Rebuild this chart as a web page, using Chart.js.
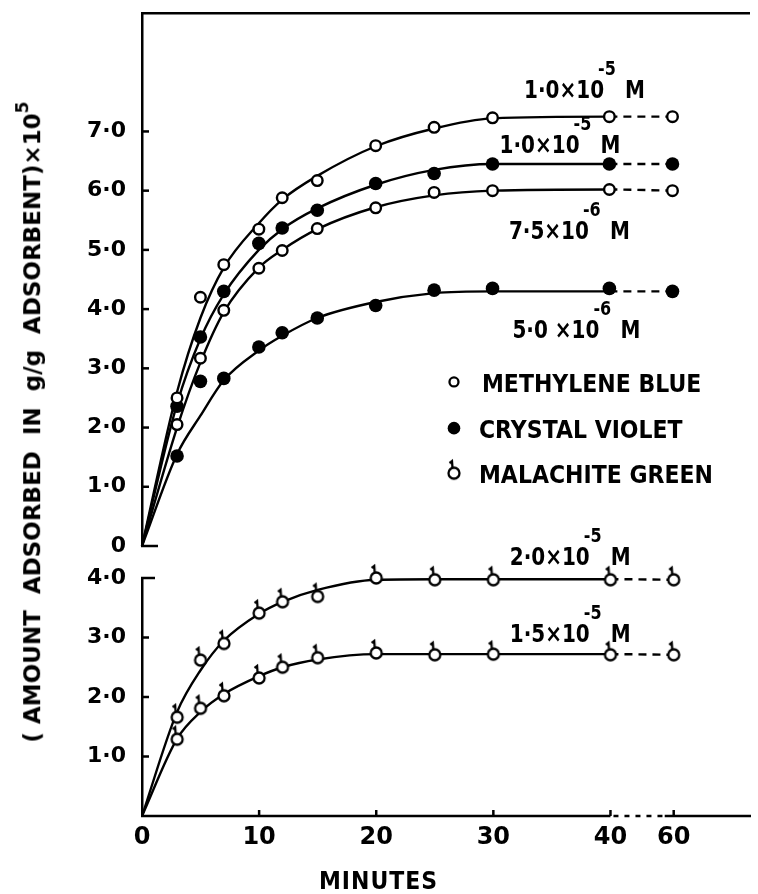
<!DOCTYPE html>
<html>
<head>
<meta charset="utf-8">
<script src="https://cdn.jsdelivr.net/npm/chart.js@4.4.0/dist/chart.umd.min.js"></script>
<style>
  html, body { margin: 0; padding: 0; background: #fff; }
  #wrap { position: relative; width: 758px; height: 894px; overflow: hidden; background: #fff; }
  #top { position: absolute; left: 0; top: 0; }
  #bottom { position: absolute; left: 0; top: 500px; }
  #ytitle {
    position: absolute; left: 30px; top: 422px;
    transform: translate(-50%, -50%) rotate(-90deg);
    white-space: nowrap; font: bold 23px 'DejaVu Sans'; color: #000;
  }
  #ytitle sup { font-size: 17px; position: relative; top: -3px; }
</style>
</head>
<body>
<div id="wrap">
  <canvas id="top" width="758" height="560"></canvas>
  <canvas id="bottom" width="758" height="394"></canvas>
  <div id="ytitle">( AMOUNT&nbsp; ADSORBED&nbsp; IN&nbsp; g/g&nbsp; ADSORBENT)×10<sup>5</sup></div>
</div>
<script>
// sampling times (minutes) of the measured points
const minutes = [3, 5, 7, 10, 12, 15, 20, 25, 30, 40, 60];

// measured points, upper panel
const mbHigh = [2.5, 4.2, 4.75, 5.35, 5.88, 6.17, 6.76, 7.07, 7.23, 7.25, 7.25];  // methylene blue 1.0e-5 M
const cvHigh = [2.36, 3.53, 4.3, 5.11, 5.37, 5.67, 6.12, 6.29, 6.45, 6.45, 6.45]; // crystal violet 1.0e-5 M
const mbLow = [2.05, 3.17, 3.98, 4.69, 4.99, 5.36, 5.71, 5.97, 6.0, 6.02, 6.0];   // methylene blue 7.5e-6 M
const cvLow = [1.52, 2.78, 2.83, 3.36, 3.6, 3.85, 4.06, 4.32, 4.35, 4.35, 4.3];   // crystal violet 5.0e-6 M

// measured points, lower panel (malachite green)
const mgHigh = [1.66, 2.62, 2.9, 3.41, 3.6, 3.69, 4.0, 3.97, 3.97, 3.97, 3.97];   // 2.0e-5 M
const mgLow = [1.29, 1.81, 2.02, 2.32, 2.5, 2.66, 2.74, 2.71, 2.72, 2.71, 2.71];  // 1.5e-5 M

// smooth curves as drawn in the figure
const curveMinutes = [0, 3, 5, 7, 10, 12, 15, 20, 25, 30, 40, 60];
const mbHighCurve = [0, 2.6, 3.85, 4.7, 5.45, 5.85, 6.25, 6.75, 7.05, 7.22, 7.25, 7.25];
const cvHighCurve = [0, 2.4, 3.5, 4.25, 5.0, 5.35, 5.7, 6.1, 6.35, 6.45, 6.45, 6.45];
const mbLowCurve = [0, 2.0, 3.1, 3.95, 4.7, 5.0, 5.35, 5.72, 5.92, 6.0, 6.02, 6.0];
const cvLowCurve = [0, 1.55, 2.2, 2.8, 3.3, 3.55, 3.85, 4.12, 4.27, 4.3, 4.3, 4.3];
const mgHighCurve = [0, 1.75, 2.45, 2.95, 3.4, 3.6, 3.8, 3.97, 3.98, 3.98, 3.98, 3.97];
const mgLowCurve = [0, 1.3, 1.75, 2.05, 2.35, 2.5, 2.63, 2.72, 2.72, 2.72, 2.72, 2.71];

// axis ticks
const xTicks = [0, 10, 20, 30, 40, 60];
const upperTicks = [0, 1, 2, 3, 4, 5, 6, 7];
const lowerTicks = [1, 2, 3, 4];

// legend / concentration labels
const legendNames = ['METHYLENE BLUE', 'CRYSTAL VIOLET', 'MALACHITE GREEN'];
const upperNotes = [
    { base: '1·0×10', exp: '-5' },
    { base: '1·0×10', exp: '-5' },
    { base: '7·5×10', exp: '-6' },
    { base: '5·0 ×10', exp: '-6' }
];
const lowerNotes = [
    { base: '2·0×10', exp: '-5' },
    { base: '1·5×10', exp: '-5' }
];
// where the labels sit (minutes, value)
const upperNotePos = [[32.7, 7.57], [30.6, 6.63], [31.4, 5.19], [31.7, 3.51]];
const lowerNotePos = [[31.4, 4.22], [31.4, 2.92]];
const legendPos = { minute: 26.7, rows: [2.77, 1.99, 1.23] };
const xTitle = 'MINUTES';

// broken time axis: 40 -> 60 squeezed
const breakFrom = 40, breakTo = 60, breakPos = 45.4;
const xPos = m => (m <= breakFrom ? m : breakFrom + (m - breakFrom) * (breakPos - breakFrom) / (breakTo - breakFrom));
const pts = (xs, ys) => xs.map((m, i) => ({ x: xPos(m), y: ys[i] }));

const FONT = 'DejaVu Sans';
const fmt = v => (v === 0 ? '0' : v.toFixed(1).replace('.', '·'));

function mgMarker() {
    const c = document.createElement('canvas');
    c.width = 18; c.height = 32;
    const g = c.getContext('2d');
    g.lineWidth = 2.3; g.strokeStyle = '#000'; g.fillStyle = '#fff';
    g.beginPath(); g.arc(9, 16, 5.5, 0, Math.PI * 2); g.fill(); g.stroke();
    g.beginPath(); g.moveTo(7.5, 10.5); g.lineTo(7, 4); g.lineTo(4.5, 6); g.stroke();
    return c;
}
const mgImg = mgMarker();

const openDot = { pointStyle: 'circle', pointRadius: 5.3, pointBackgroundColor: '#fff', pointBorderWidth: 2.4 };
const fullDot = { pointStyle: 'circle', pointRadius: 6.8, pointBackgroundColor: '#000', pointBorderWidth: 0 };
const mgDot = { pointStyle: mgImg, pointRadius: 6 };

function pointSet(values, style) {
    return Object.assign({
        data: pts(minutes, values), showLine: false, clip: false, order: 0,
        pointBorderColor: '#000', pointHoverRadius: 6
    }, style);
}
function curveSet(values) {
    return {
        data: pts(curveMinutes, values), borderColor: '#000', borderWidth: 2.4, pointRadius: 0,
        pointHoverRadius: 0, cubicInterpolationMode: 'monotone', clip: false, order: 1,
        segment: { borderDash: c => (c.p1DataIndex === curveMinutes.length - 1 ? [8, 6] : undefined) }
    };
}

// lettering in the figure is tall and narrow, so stretch it a little
function tallText(ctx, text, x, y, sy) {
    ctx.save();
    ctx.translate(x, y);
    ctx.scale(1, sy);
    ctx.fillText(text, 0, 0);
    ctx.restore();
}

function drawConc(ctx, x, y, note) {
    ctx.save();
    ctx.fillStyle = '#000';
    ctx.textAlign = 'left';
    ctx.textBaseline = 'alphabetic';
    ctx.font = `bold 20px "${FONT}"`;
    tallText(ctx, note.base, x, y, 1.25);
    const w = ctx.measureText(note.base).width;
    tallText(ctx, 'M', x + w + 21, y, 1.25);
    ctx.font = `bold 16px "${FONT}"`;
    tallText(ctx, note.exp, x + w - 6, y - 23, 1.2);
    ctx.restore();
}

function line(ctx, x1, y1, x2, y2) {
    ctx.beginPath(); ctx.moveTo(x1, y1); ctx.lineTo(x2, y2); ctx.stroke();
}

// extras for the upper panel: inner ticks, stub, labels, legend
const upperExtras = {
    id: 'upperExtras',
    afterDraw(chart) {
        const { ctx, scales: { x, y } } = chart;
        const x0 = x.getPixelForValue(0);
        ctx.save();
        ctx.strokeStyle = '#000';
        ctx.lineWidth = 2.5;
        line(ctx, x0 - 1, y.getPixelForValue(0), x0 + 16, y.getPixelForValue(0));
        upperTicks.slice(1).forEach(v => line(ctx, x0, y.getPixelForValue(v), x0 + 7, y.getPixelForValue(v)));
        upperNotes.forEach((n, i) => drawConc(ctx, x.getPixelForValue(upperNotePos[i][0]), y.getPixelForValue(upperNotePos[i][1]), n));

        // legend
        const lx = x.getPixelForValue(legendPos.minute);
        ctx.font = `bold 22px "${FONT}"`;
        ctx.textBaseline = 'alphabetic';
        ctx.lineWidth = 2.3;
        legendNames.forEach((name, i) => {
            const ly = y.getPixelForValue(legendPos.rows[i]);
            if (i === 0) {
                ctx.beginPath(); ctx.arc(lx, ly, 4.5, 0, Math.PI * 2);
                ctx.fillStyle = '#fff'; ctx.fill(); ctx.stroke();
            } else if (i === 1) {
                ctx.beginPath(); ctx.arc(lx, ly, 6.3, 0, Math.PI * 2);
                ctx.fillStyle = '#000'; ctx.fill();
            } else {
                ctx.drawImage(mgImg, lx - 9, ly - 16);
            }
            ctx.fillStyle = '#000';
            tallText(ctx, name, lx + (i === 0 ? 28 : 25), ly + 10, 1.13);
        });
        ctx.restore();
    }
};

// extras for the lower panel: broken time axis, ticks, labels, axis title
const lowerExtras = {
    id: 'lowerExtras',
    afterDraw(chart) {
        const { ctx, scales: { x, y } } = chart;
        const x0 = x.getPixelForValue(0);
        const y0 = y.getPixelForValue(0);
        const xb = x.getPixelForValue(breakFrom);
        const xa = x.getPixelForValue(breakPos);
        ctx.save();
        ctx.strokeStyle = '#000';
        ctx.lineWidth = 2.5;
        line(ctx, x0 - 1, y0, xb, y0);
        line(ctx, xa - 9, y0, x.right, y0);
        ctx.setLineDash([5, 6]);
        line(ctx, xb + 3, y0, xa - 9, y0);
        ctx.setLineDash([]);
        xTicks.slice(1).forEach(m => line(ctx, x.getPixelForValue(xPos(m)), y0, x.getPixelForValue(xPos(m)), y0 - 6));
        const yTop = y.getPixelForValue(4);
        line(ctx, x0 - 1, yTop, x0 + 13, yTop);
        lowerTicks.slice(0, -1).forEach(v => line(ctx, x0, y.getPixelForValue(v), x0 + 7, y.getPixelForValue(v)));
        lowerNotes.forEach((n, i) => drawConc(ctx, x.getPixelForValue(lowerNotePos[i][0]), y.getPixelForValue(lowerNotePos[i][1]), n));

        ctx.fillStyle = '#000';
        ctx.font = `bold 22px "${FONT}"`;
        ctx.textAlign = 'center';
        ctx.textBaseline = 'alphabetic';
        ctx.letterSpacing = '1px';
        tallText(ctx, xTitle, x.getPixelForValue(20.2), y0 + 73, 1.15);
        ctx.restore();
    }
};

const yTickFont = { family: FONT, size: 22, weight: 'bold' };
const fitY = s => { s.width = 142; s.paddingTop = 0; s.paddingBottom = 0; };

const upperChart = new Chart(document.getElementById('top'), {
    type: 'line',
    data: {
        datasets: [
            pointSet(mbHigh, openDot),
            pointSet(cvHigh, fullDot),
            pointSet(mbLow, openDot),
            pointSet(cvLow, fullDot),
            curveSet(mbHighCurve),
            curveSet(cvHighCurve),
            curveSet(mbLowCurve),
            curveSet(cvLowCurve)
        ]
    },
    options: {
        responsive: false,
        animation: false,
        layout: { padding: { left: 0, right: 1, top: 13, bottom: 14 } },
        plugins: { legend: { display: false }, tooltip: { enabled: false } },
        scales: {
            x: {
                type: 'linear', position: 'top', min: 0, max: 52,
                ticks: { display: false },
                grid: { display: false, drawTicks: false },
                border: { display: true, color: '#000', width: 2.5 },
                afterFit: s => { s.height = 0; s.paddingLeft = 0; s.paddingRight = 0; }
            },
            y: {
                min: 0, max: 9,
                afterBuildTicks: s => { s.ticks = upperTicks.map(v => ({ value: v })); },
                ticks: { callback: v => fmt(v), color: '#000', font: yTickFont, padding: 16 },
                grid: { display: false, drawTicks: false },
                border: { display: true, color: '#000', width: 2.5 },
                afterFit: fitY
            }
        }
    },
    plugins: [upperExtras]
});

const lowerChart = new Chart(document.getElementById('bottom'), {
    type: 'line',
    data: {
        datasets: [
            pointSet(mgHigh, mgDot),
            pointSet(mgLow, mgDot),
            curveSet(mgHighCurve),
            curveSet(mgLowCurve)
        ]
    },
    options: {
        responsive: false,
        animation: false,
        layout: { padding: { left: 0, right: 1, top: 78, bottom: 0 } },
        plugins: { legend: { display: false }, tooltip: { enabled: false } },
        scales: {
            x: {
                type: 'linear', min: 0, max: 52,
                afterBuildTicks: s => { s.ticks = xTicks.map(m => ({ value: xPos(m) })); },
                ticks: { callback: (v, i) => String(xTicks[i]), color: '#000', font: { family: FONT, size: 24, weight: 'bold' }, padding: 7, maxRotation: 0, autoSkip: false },
                grid: { display: false, drawTicks: false },
                border: { display: false },
                afterFit: s => { s.height = 78; s.paddingLeft = 0; s.paddingRight = 0; }
            },
            y: {
                min: 0, max: 4,
                afterBuildTicks: s => { s.ticks = lowerTicks.map(v => ({ value: v })); },
                ticks: { callback: v => fmt(v), color: '#000', font: yTickFont, padding: 16 },
                grid: { display: false, drawTicks: false },
                border: { display: true, color: '#000', width: 2.5 },
                afterFit: fitY
            }
        }
    },
    plugins: [lowerExtras]
});
</script>
</body>
</html>
